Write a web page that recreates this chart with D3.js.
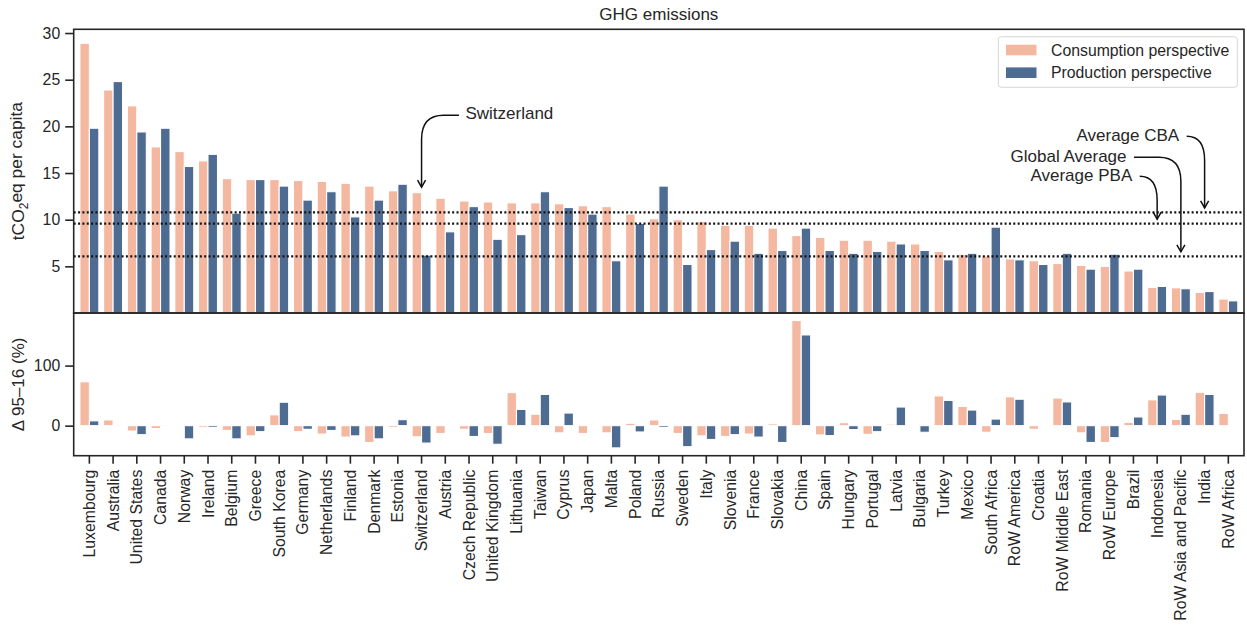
<!DOCTYPE html>
<html>
<head>
<meta charset="utf-8">
<script src="https://cdn.jsdelivr.net/npm/d3@7"></script>
<style>
  html, body { margin: 0; padding: 0; background: #fff; }
  svg { display: block; font-family: Arial, "Liberation Sans", Helvetica, sans-serif; }
</style>
</head>
<body>
<svg id="chart" width="1247" height="626"></svg>
<script>
// ---------------- DATA ----------------
const categories = ["Luxembourg","Australia","United States","Canada","Norway","Ireland","Belgium","Greece","South Korea","Germany","Netherlands","Finland","Denmark","Estonia","Switzerland","Austria","Czech Republic","United Kingdom","Lithuania","Taiwan","Cyprus","Japan","Malta","Poland","Russia","Sweden","Italy","Slovenia","France","Slovakia","China","Spain","Hungary","Portugal","Latvia","Bulgaria","Turkey","Mexico","South Africa","RoW America","Croatia","RoW Middle East","Romania","RoW Europe","Brazil","Indonesia","RoW Asia and Pacific","India","RoW Africa"];

const consumption = [28.9,23.9,22.2,17.8,17.3,16.3,14.4,14.3,14.3,14.2,14.1,13.9,13.6,13.1,12.9,12.3,12.0,11.9,11.8,11.8,11.7,11.5,11.4,10.6,10.1,10.0,9.8,9.4,9.4,9.1,8.3,8.1,7.8,7.8,7.7,7.4,6.6,6.3,6.1,5.8,5.6,5.3,5.1,5.0,4.5,2.75,2.7,2.2,1.5];
const production  = [19.8,24.8,19.4,19.8,15.7,17.0,10.7,14.3,13.6,12.1,13.0,10.3,12.1,13.8,6.2,8.7,11.4,7.9,8.4,13.0,11.3,10.6,5.6,9.6,13.6,5.2,6.8,7.7,6.4,6.7,9.1,6.7,6.4,6.6,7.4,6.7,5.7,6.4,9.2,5.7,5.2,6.4,4.7,6.3,4.7,2.85,2.6,2.3,1.3];

const changeConsumption = [73,9.5,-9,-5,-0.5,-3,-8,-17,18,-10,-14,-19,-28,-3,-18.5,-13,-6,-13,55,19,-12,-13,-12,4,9.5,-13,-17,-18,-14,3,175,-15.5,5,-14.5,2.5,0,49.5,32,-11,48,-6,46,-12,-28,5.5,43,10.5,55.5,20.5];
const changeProduction  = [8,-1.5,-15,-0.5,-22,-3,-22,-10,39,-6,-8,-17,-22,10,-29,0,-18,-31,27,52,21,0,-37,-10.5,-3,-35,-23,-15,-19,-28,151,-16.5,-6.5,-10,31,-11,42,26,11,44,0,39.5,-28,-20,14.5,51,19,52,0];

const seriesNames = ["Consumption perspective","Production perspective"];
const seriesColors = ["#F4B8A1","#4E6C92"];

const averageLabels = ["Average CBA","Global Average","Average PBA"];
const averageValues = [10.78, 6.07, 9.57];
// annotation: target category index, text right-edge position (category units), text value
const averageTargets = [47, 46, 45];
const averageTextX = [45.93, 43.71, 43.95];
const averageTextY = [19.05, 16.8, 14.76];

const highlightLabel = "Switzerland";
const highlightTextY = 21.4;
const highlightTextX = 15.85;

const topTicks = [5,10,15,20,25,30];
const bottomTicks = [0,100];

// ---------------- LAYOUT ----------------
const svg = d3.select("#chart");
const L = 73.7, R = 1244, T = 29.3, M = 313, B = 455.7;
const ink = "#262626";

const x = d3.scaleBand().domain(categories).range([L, R]).paddingInner(0).paddingOuter(0.16);
const step = x.step();
const xc = i => x(categories[i]) + x.bandwidth() / 2;
const xPos = v => x(categories[0]) + x.bandwidth() / 2 + v * step; // fractional category position
const sub = d3.scaleBand().domain([0,1]).range([0.1 * step, 0.9 * step]);

const yTop = d3.scaleLinear().domain([0, 30.4]).range([M, T]);
const yBot = d3.scaleLinear().domain([-50, 187.5]).range([B, M]);

// ---------------- TOP BARS ----------------
const topG = svg.append("g");
[consumption, production].forEach((vals, s) => {
  topG.selectAll(null).data(vals).enter().append("rect")
    .attr("x", (d, i) => x(categories[i]) + sub(s))
    .attr("width", sub.bandwidth())
    .attr("y", d => yTop(d))
    .attr("height", d => yTop(0) - yTop(d))
    .attr("fill", seriesColors[s])
    .attr("stroke", "#fff").attr("stroke-width", 1.1);
});

// average dotted lines
svg.selectAll(null).data(averageValues).enter().append("line")
  .attr("x1", L).attr("x2", R)
  .attr("y1", d => yTop(d)).attr("y2", d => yTop(d))
  .attr("stroke", "#111").attr("stroke-width", 2.2)
  .attr("stroke-dasharray", "2,2.35");

// ---------------- BOTTOM BARS ----------------
const botG = svg.append("g");
[changeConsumption, changeProduction].forEach((vals, s) => {
  botG.selectAll(null).data(vals).enter().append("rect")
    .attr("x", (d, i) => x(categories[i]) + sub(s))
    .attr("width", sub.bandwidth())
    .attr("y", d => yBot(Math.max(0, d)))
    .attr("height", d => Math.abs(yBot(d) - yBot(0)))
    .attr("fill", seriesColors[s])
    .attr("stroke", d => d === 0 ? "none" : "#fff").attr("stroke-width", 1.1);
});

// ---------------- AXES / FRAMES ----------------
const frame = (y0, y1) => svg.append("rect")
  .attr("x", L).attr("y", y0).attr("width", R - L).attr("height", y1 - y0)
  .attr("fill", "none").attr("stroke", ink).attr("stroke-width", 1.6);
frame(T, M);
frame(M, B);

function styleAxis(g) {
  g.select(".domain").remove();
  g.selectAll(".tick line").attr("stroke", ink).attr("stroke-width", 1.6);
  g.selectAll(".tick text").attr("fill", ink).style("font-size", "15.8px")
    .style("font-family", "Arial, 'Liberation Sans', sans-serif");
}

svg.append("g").attr("transform", `translate(${L},0)`)
  .call(d3.axisLeft(yTop).tickValues(topTicks).tickSize(8.5).tickPadding(5))
  .call(styleAxis);
svg.append("g").attr("transform", `translate(${L},0)`)
  .call(d3.axisLeft(yBot).tickValues(bottomTicks).tickSize(8.5).tickPadding(5))
  .call(styleAxis);

const xAxisG = svg.append("g").attr("transform", `translate(0,${B})`)
  .call(d3.axisBottom(x).tickSize(8).tickPadding(6))
  .call(styleAxis);
xAxisG.selectAll(".tick text")
  .attr("transform", "rotate(-90)")
  .attr("x", -14).attr("y", 0).attr("dy", "0.35em")
  .attr("text-anchor", "end");

// ---------------- LABELS ----------------
svg.append("text").attr("x", (L + R) / 2).attr("y", 20)
  .attr("text-anchor", "middle").attr("fill", ink).style("font-size", "17px")
  .text("GHG emissions");

const yl = svg.append("text")
  .attr("transform", `translate(24,${(T + M) / 2}) rotate(-90)`)
  .attr("text-anchor", "middle").attr("fill", ink).style("font-size", "17.4px");
yl.append("tspan").text("tCO");
yl.append("tspan").text("2").attr("dy", "0.3em").style("font-size", "12px");
yl.append("tspan").text("eq per capita").attr("dy", "-0.3em");

svg.append("text")
  .attr("transform", `translate(24,${(M + B) / 2}) rotate(-90)`)
  .attr("text-anchor", "middle").attr("fill", ink).style("font-size", "17px")
  .text("Δ 95–16 (%)");

// ---------------- LEGEND ----------------
const lg = svg.append("g");
lg.append("rect").attr("x", 998.3).attr("y", 36.7).attr("width", 239).attr("height", 50.6)
  .attr("rx", 3).attr("fill", "#fff").attr("fill-opacity", 0.8)
  .attr("stroke", "#d6d6d6").attr("stroke-width", 1);
seriesNames.forEach((n, i) => {
  const cy = 50 + i * 22.7;
  lg.append("rect").attr("x", 1006).attr("y", cy - 5.3).attr("width", 30.5).attr("height", 10.6)
    .attr("fill", seriesColors[i]);
  lg.append("text").attr("x", 1051).attr("y", cy).attr("dy", "0.35em")
    .attr("fill", ink).style("font-size", "15.8px").text(n);
});

// ---------------- ANNOTATIONS ----------------
const annG = svg.append("g");
function arrow(sx, sy, tx, ty, dir) {
  const rx = Math.min(22, Math.abs(tx - sx));
  const ry = 24;
  const path = `M${sx},${sy} H${tx - dir * rx} Q${tx},${sy} ${tx},${sy + ry} V${ty}`;
  annG.append("path").attr("d", path).attr("fill", "none")
    .attr("stroke", "#111").attr("stroke-width", 1.5);
  annG.append("path").attr("d", `M${tx - 4},${ty - 7} L${tx},${ty} L${tx + 4},${ty - 7}`)
    .attr("fill", "none").attr("stroke", "#111").attr("stroke-width", 1.5);
}

// Switzerland
const swIdx = categories.indexOf(highlightLabel);
const swTx = xPos(highlightTextX), swTy = yTop(highlightTextY);
annG.append("text").attr("x", swTx).attr("y", swTy).attr("dy", "0.35em")
  .attr("fill", ink).style("font-size", "17px").text(highlightLabel);
arrow(swTx - 6.5, swTy + 2, xc(swIdx), yTop(consumption[swIdx]) - 5.5, -1);

averageLabels.forEach((lab, i) => {
  const tx = xPos(averageTextX[i]), ty = yTop(averageTextY[i]);
  annG.append("text").attr("x", tx).attr("y", ty).attr("dy", "0.35em")
    .attr("text-anchor", "end").attr("fill", ink).style("font-size", "17px").text(lab);
  arrow(tx + 7.5, ty + 1, xc(averageTargets[i]), yTop(averageValues[i]) - 4.5, 1);
});
</script>
</body>
</html>
